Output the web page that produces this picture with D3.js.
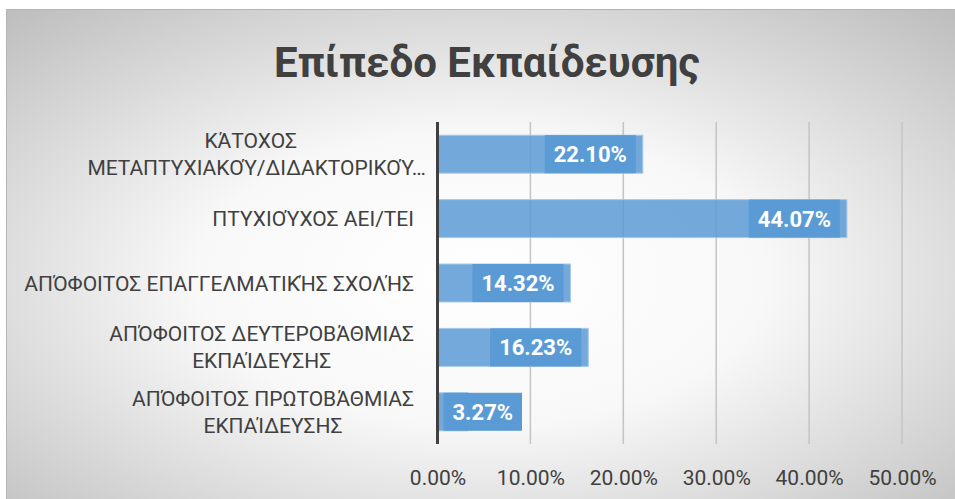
<!DOCTYPE html>
<html>
<head>
<meta charset="utf-8">
<script src="https://cdn.jsdelivr.net/npm/d3@7"></script>
<style>
  body { margin: 0; background: #fff; }
  svg { display: block; font-family: Roboto, "Open Sans", sans-serif; }
</style>
</head>
<body>
<div id="graph"></div>
<script>
// categories, top to bottom, split in the lines shown on the chart
var categories = [
  ["ΚΆΤΟΧΟΣ", "ΜΕΤΑΠΤΥΧΙΑΚΟΎ/ΔΙΔΑΚΤΟΡΙΚΟΎ…"],
  ["ΠΤΥΧΙΟΎΧΟΣ ΑΕΙ/ΤΕΙ"],
  ["ΑΠΌΦΟΙΤΟΣ ΕΠΑΓΓΕΛΜΑΤΙΚΉΣ ΣΧΟΛΉΣ"],
  ["ΑΠΌΦΟΙΤΟΣ ΔΕΥΤΕΡΟΒΆΘΜΙΑΣ", "ΕΚΠΑΊΔΕΥΣΗΣ"],
  ["ΑΠΌΦΟΙΤΟΣ ΠΡΩΤΟΒΆΘΜΙΑΣ", "ΕΚΠΑΊΔΕΥΣΗΣ"]
];
var values = [0.2210, 0.4407, 0.1432, 0.1623, 0.0327];
var xTicks = [0, 0.1, 0.2, 0.3, 0.4, 0.5];
var title = "Επίπεδο Εκπαίδευσης";

var W = 955, H = 499;
var margin = {top: 122, right: 53, bottom: 55, left: 437.5};

var svg = d3.select('#graph').append('svg')
  .attr('width', W)
  .attr('height', H);

// background with radial gradient
var defs = svg.append('defs');
var grad = defs.append('radialGradient')
  .attr('id', 'bg')
  .attr('cx', '0.5').attr('cy', '0.55').attr('r', '0.75');
grad.append('stop').attr('offset', '0').attr('stop-color', '#ffffff');
grad.append('stop').attr('offset', '0.4').attr('stop-color', '#f8f8f8');
grad.append('stop').attr('offset', '1').attr('stop-color', '#bcbcbc');

svg.append('rect')
  .attr('x', 6).attr('y', 9)
  .attr('width', W - 6).attr('height', H - 9)
  .attr('fill', 'url(#bg)');
svg.append('path')
  .attr('d', 'M6.5,' + H + 'V9.5H' + W)
  .attr('fill', 'none')
  .attr('stroke', '#b4b4b4')
  .attr('stroke-width', 1);

svg.append('text')
  .attr('x', 487)
  .attr('y', 77)
  .attr('text-anchor', 'middle')
  .attr('font-size', 42)
  .attr('font-weight', 'bold')
  .attr('fill', '#404040')
  .text(title);

var x = d3.scaleLinear()
  .domain([0, 0.5])
  .range([margin.left, W - margin.right]);

var y = d3.scaleBand()
  .domain(d3.range(categories.length))
  .range([margin.top, H - margin.bottom])
  .paddingInner(0.41)
  .paddingOuter(0.205);

var yTop = margin.top, yBot = H - margin.bottom;

// gridlines
svg.append('g').selectAll('line')
  .data(xTicks.slice(1))
  .enter().append('line')
  .attr('x1', function(d) { return x(d); })
  .attr('x2', function(d) { return x(d); })
  .attr('y1', yTop)
  .attr('y2', yBot)
  .attr('stroke', '#c4c4c4')
  .attr('stroke-width', 1.5);

// bars
var bars = svg.append('g').selectAll('g.bar')
  .data(values)
  .enter().append('g')
  .attr('class', 'bar');

bars.append('rect')
  .attr('x', x(0))
  .attr('y', function(d, i) { return y(i); })
  .attr('width', function(d) { return x(d) - x(0); })
  .attr('height', y.bandwidth())
  .attr('fill', '#5b9bd5')
  .attr('fill-opacity', 0.85)
  .attr('stroke', '#a9c9ea')
  .attr('stroke-width', 1);

// value labels in darker boxes, inside end
bars.each(function(d, i) {
  var g = d3.select(this);
  var t = g.append('text')
    .attr('font-size', 22)
    .attr('font-weight', 'bold')
    .attr('fill', '#ffffff')
    .attr('text-anchor', 'middle')
    .text(d3.format('.2%')(d));
  var w = t.node().getComputedTextLength() + 18;
  var right = x(d) - 7;
  var left = right - w;
  if (left < x(0) + 6) left = x(0) + 6;
  g.insert('rect', 'text')
    .attr('x', left)
    .attr('y', y(i))
    .attr('width', w)
    .attr('height', y.bandwidth())
    .attr('fill', '#5b9bd5');
  t.attr('x', left + w / 2)
    .attr('y', y(i) + y.bandwidth() / 2 + 8);
});

// zero axis
svg.append('line')
  .attr('x1', x(0)).attr('x2', x(0))
  .attr('y1', yTop).attr('y2', yBot)
  .attr('stroke', '#404040')
  .attr('stroke-width', 3);

// x axis labels
var xAxis = d3.axisBottom(x)
  .tickValues(xTicks)
  .tickFormat(d3.format('.2%'))
  .tickSize(0)
  .tickPadding(0);

var ax = svg.append('g')
  .attr('transform', 'translate(0,' + yBot + ')')
  .call(xAxis);
ax.select('.domain').remove();
ax.selectAll('text')
  .attr('font-size', 21)
  .attr('font-family', 'Roboto, sans-serif')
  .attr('fill', '#404040')
  .attr('dy', null)
  .attr('y', 41);

// category labels: lines centered on the widest one, block right aligned
var labelRight = 414;
var lineH = 27;
var labelSize = 21;
categories.forEach(function(lines, i) {
  var cy = y(i) + y.bandwidth() / 2;
  var g = svg.append('g');
  var widths = lines.map(function(l) {
    var tmp = g.append('text').attr('font-size', labelSize).text(l.replace('…', ''));
    var w = tmp.node().getComputedTextLength();
    tmp.remove();
    return w;
  });
  var center = labelRight - d3.max(widths) / 2;
  lines.forEach(function(l, j) {
    var dyOff = (j - (lines.length - 1) / 2) * lineH;
    g.append('text')
      .attr('font-size', labelSize)
      .attr('fill', '#404040')
      .attr('x', center - widths[j] / 2)
      .attr('y', cy + dyOff + 7.5)
      .text(l);
  });
});
</script>
</body>
</html>
